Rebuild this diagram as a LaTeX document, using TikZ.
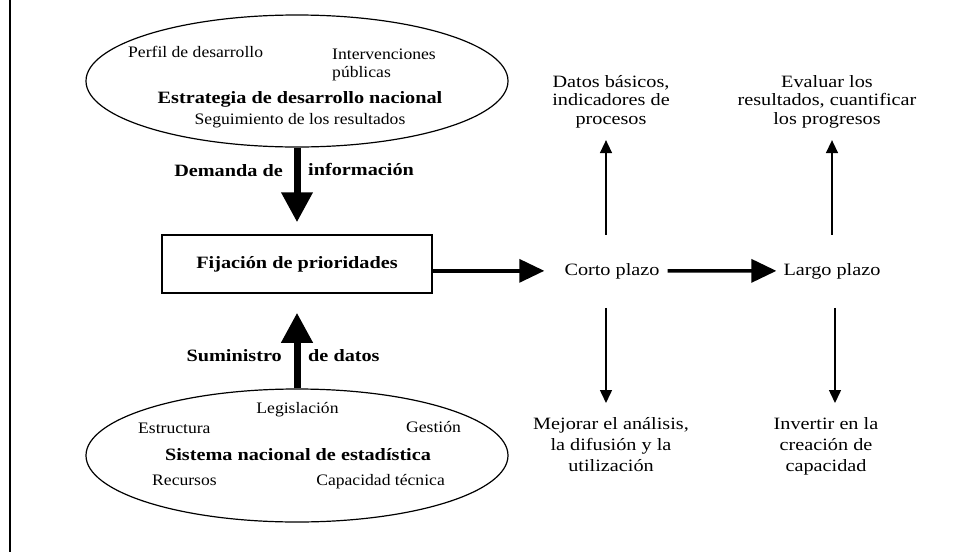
\documentclass[tikz,border=0pt]{standalone}
\usepackage{fontspec}
\setmainfont{Liberation Serif}[FakeStretch=1.17]
\newfontfamily\smallser{Liberation Serif}[FakeStretch=1.1]
\usetikzlibrary{arrows.meta,shapes.geometric}
\begin{document}
\begin{tikzpicture}[x=1pt,y=-1pt,
  oval/.style={ellipse,draw,line width=1.2pt,minimum width=422pt,minimum height=132pt,inner sep=0pt},
  prio/.style={rectangle,draw,line width=1.5pt,minimum width=270pt,minimum height=58pt,inner sep=0pt,font=\fontsize{17.3}{18.5}\selectfont\bfseries},
  lab/.style={inner sep=0pt,font=\fontsize{17.3}{18.5}\selectfont},
  lowlab/.style={inner sep=0pt,align=center,anchor=north,font=\fontsize{17.3}{21}\selectfont},
  toplab/.style={inner sep=0pt,align=center,anchor=north,font=\fontsize{17.3}{18.5}\selectfont},
  blab/.style={inner sep=0pt,font=\fontsize{17.3}{18.5}\selectfont\bfseries},
  slab/.style={inner sep=0pt,font=\smallser\fontsize{16}{18}\selectfont},
  bigarr/.style={line width=7pt,-{Triangle[length=30pt,width=30pt]}},
  medarr/.style={line width=3.5pt,-{Triangle[length=25pt,width=23pt]}},
  thinarr/.style={line width=1.5pt,-{Triangle[length=13pt,width=12pt]}}
]
\useasboundingbox (0,0) rectangle (972,552);
\draw[line width=2.5pt] (10,0) -- (10,552);

% upper ellipse
\node[oval] (est) at (297,81) {};
\node[slab,anchor=base west] (perfil) at (128,57) {Perfil de desarrollo};
\node[slab,anchor=north west,align=left] (interv) at (332,48.5) {Intervenciones\\públicas};
\node[blab,anchor=base] (estr) at (300,103) {Estrategia de desarrollo nacional};
\node[slab,anchor=base] (segu) at (300,124) {Seguimiento de los resultados};

% priorities box
\node[prio] (fij) at (297,264) {Fijación de prioridades};

% lower ellipse
\node[oval,minimum height=133pt] (sne) at (297,455.5) {};
\node[slab,anchor=base] (legis) at (297.5,413) {Legislación};
\node[slab,anchor=base west] (gest) at (406,432) {Gestión};
\node[slab,anchor=base west] (estru) at (138,433) {Estructura};
\node[blab,anchor=base] (sist) at (298,460) {Sistema nacional de estadística};
\node[slab,anchor=base west] (recur) at (152,485) {Recursos};
\node[slab,anchor=base east] (capac) at (445,485) {Capacidad técnica};

% vertical thick arrows and labels
\draw[bigarr,shorten >=12pt] (est.south) -- (fij.north);
\node[blab,anchor=base east] (dem) at (283,176) {Demanda de};
\node[blab,anchor=base west] (info) at (308,175) {información};
\draw[bigarr,shorten >=19pt] (sne.north) -- (fij.south);
\node[blab,anchor=base east] (sumi) at (282,361) {Suministro};
\node[blab,anchor=base west] (dat) at (308,361) {de datos};

% right part
\node[lab,anchor=base] (corto) at (612,275) {Corto plazo};
\node[lab,anchor=base] (largo) at (832,275) {Largo plazo};
\node[toplab] (datos) at (611,75) {Datos básicos,\\indicadores de\\procesos};
\node[toplab] (evalu) at (827,75) {Evaluar los\\resultados, cuantificar\\los progresos};
\node[lowlab] (mejor) at (611,417) {Mejorar el análisis,\\la difusión y la\\utilización};
\node[lowlab] (invert) at (826,417) {Invertir en la\\creación de\\capacidad};

\draw[medarr,shorten >=20pt] (fij.east |- corto) -- (corto.west);
\draw[medarr,shorten <=8pt,shorten >=7pt] (corto.east) -- (largo.west);

\draw[thinarr,shorten <=28pt,shorten >=12pt] ([xshift=-6pt]corto.north) -- ([xshift=-6pt]corto.north |- datos.south);
\draw[thinarr,shorten <=28pt,shorten >=12pt] (largo.north) -- (largo.north |- evalu.south);
\draw[thinarr,shorten <=29pt,shorten >=14pt] ([xshift=-6pt]corto.south) -- ([xshift=-6pt]corto.south |- mejor.north);
\draw[thinarr,shorten <=29pt,shorten >=14pt] ([xshift=3pt]largo.south) -- ([xshift=3pt]largo.south |- invert.north);
\end{tikzpicture}
\end{document}
